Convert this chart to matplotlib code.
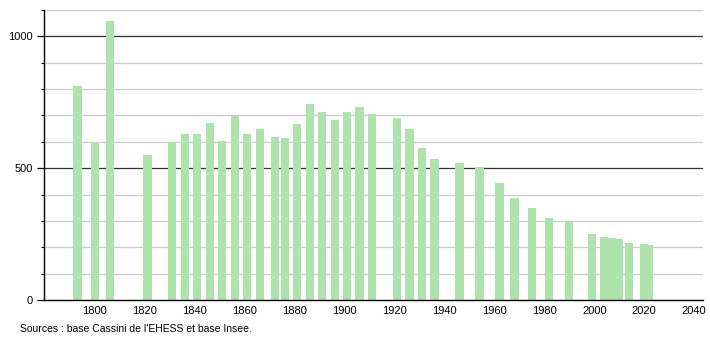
import matplotlib
matplotlib.use('Agg')
import matplotlib.pyplot as plt
from matplotlib import ticker

# population by census year
years = [1793, 1800, 1806, 1821, 1831, 1836, 1841, 1846, 1851, 1856,
         1861, 1866, 1872, 1876, 1881, 1886, 1891, 1896, 1901, 1906,
         1911, 1921, 1926, 1931, 1936, 1946, 1954, 1962, 1968, 1975,
         1982, 1990, 1999, 2004, 2007, 2010, 2014, 2020, 2022]
population = [810, 600, 1058, 551, 600, 628, 628, 670, 605, 698,
              628, 647, 620, 613, 666, 742, 712, 681, 712, 732,
              704, 689, 647, 575, 533, 519, 504, 445, 388, 350,
              312, 300, 251, 240, 234, 231, 217, 213, 209]

xticks = list(range(1800, 2041, 20))
source = "Sources : base Cassini de l'EHESS et base Insee."

plt.rcParams['font.family'] = ['Liberation Sans', 'DejaVu Sans']

fig = plt.figure(figsize=(7.1, 3.4), dpi=100)
ax = fig.add_axes([0.062, 0.1176, 0.928, 0.853])

# grid: light every 100, dark every 500
for v in range(100, 1101, 100):
    if v % 500 == 0:
        ax.axhline(v, color='#333333', lw=0.9, zorder=1)
    else:
        ax.axhline(v, color='#cccccc', lw=0.9, zorder=1)

ax.bar(years, population, width=3.3, color='#aee3ae', zorder=2)

ax.set_xlim(1779.6, 2043.5)
ax.set_ylim(0, 1100)

ax.set_xticks(xticks)
ax.tick_params(axis='x', length=0, labelsize=8, pad=4)
ax.set_yticks([0, 500, 1000])
ax.yaxis.set_minor_locator(ticker.MultipleLocator(100))
ax.tick_params(axis='y', which='major', length=5, width=0.9, labelsize=8, pad=3)
ax.tick_params(axis='y', which='minor', length=2.5, width=0.8)

for s in ['top', 'right']:
    ax.spines[s].set_visible(False)
ax.spines['left'].set_linewidth(1.0)
ax.spines['bottom'].set_linewidth(1.0)

fig.text(20/710, 1 - 329/340, source, fontsize=7.5, va='center', ha='left')

fig.savefig('out.png', dpi=100)
